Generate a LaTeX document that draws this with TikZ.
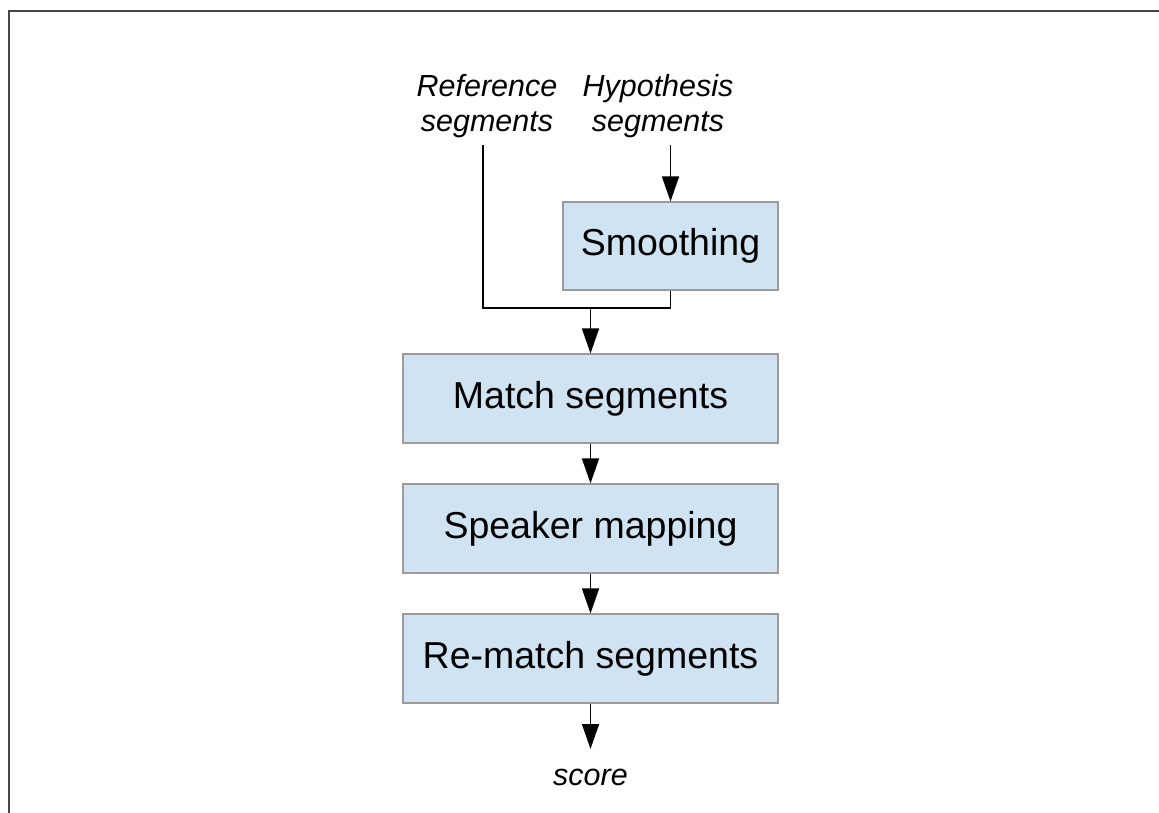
\documentclass[tikz,border=0pt]{standalone}
\usepackage{fontspec}
\setmainfont{Liberation Sans}
\usetikzlibrary{arrows.meta}
\definecolor{boxfill}{RGB}{207,227,242}
\definecolor{boxedge}{RGB}{155,155,155}
\definecolor{framecol}{RGB}{70,70,70}
\begin{document}
\begin{tikzpicture}[x=1pt,y=-1pt,
  stage/.style={draw=boxedge, line width=1.2pt, fill=boxfill, inner sep=0pt,
    font=\fontsize{37.5}{44}\selectfont},
  inlabel/.style={align=center, inner sep=0pt,
    font=\fontsize{30.5}{35}\selectfont\itshape},
  wire/.style={line width=1.6pt, black},
  flow/.style={wire, -{Triangle[length=25pt,width=17pt]}}]
  \useasboundingbox (0,0) rectangle (1159,812);
  % page frame
  \draw[framecol, line width=2pt] (9,813) -- (9,11) -- (1160,11);

  % inputs
  \node[inlabel] (ref) at (487,106) {Reference\\segments};
  \node[inlabel] (hyp) at (658,106) {Hypothesis\\segments};
  \coordinate (refstart) at (483,145);
  \coordinate (hypstart) at (670.5,145);

  % processing stages
  \node[stage, minimum width=215pt, minimum height=88pt] (smooth) at (670.5,246) {Smoothing};
  \node[stage, minimum width=375pt, minimum height=89pt] (match) at (590.5,398.5) {Match segments};
  \node[stage, minimum width=375pt, minimum height=89pt] (speaker) at (590.5,528.5) {Speaker mapping};
  \node[stage, minimum width=375pt, minimum height=89pt] (rematch) at (590.5,658.5) {Re-match segments};

  % output
  \node[inlabel] (score) at (590.5,777) {score};
  \coordinate (scoretip) at (590.5,749);

  % connectors
  \coordinate (join) at (590.5,308);
  \draw[flow] (hypstart) -- (smooth.north);
  \draw[wire] (refstart) |- (join);
  \draw[wire] (smooth.south) |- (join);
  \draw[flow] (join) -- (match.north);
  \draw[flow] (match) -- (speaker);
  \draw[flow] (speaker) -- (rematch);
  \draw[flow] (rematch.south) -- (scoretip);
\end{tikzpicture}
\end{document}
